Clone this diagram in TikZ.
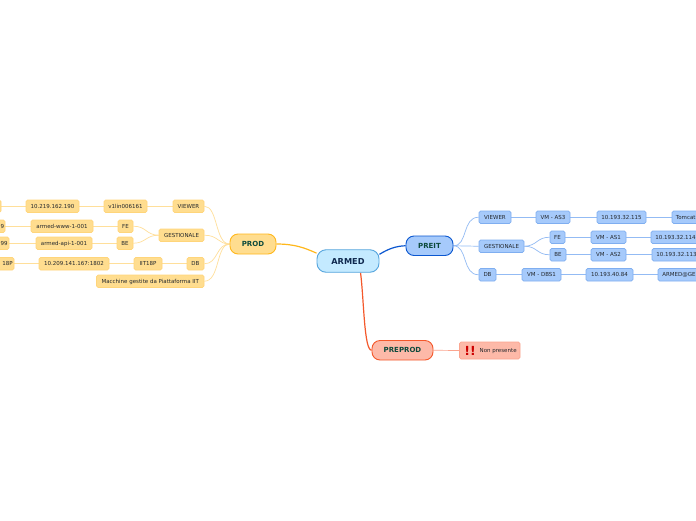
\documentclass[tikz,border=0pt]{standalone}
\usepackage{fontspec}
\setmainfont{DejaVu Sans}
\definecolor{yfill}{HTML}{FFDD8F}
\definecolor{yline}{HTML}{FFD57A}
\definecolor{ywire}{HTML}{FFDF9A}
\definecolor{ymain}{HTML}{FFB81C}
\definecolor{bfill}{HTML}{A6CAFB}
\definecolor{bline}{HTML}{7FAEF0}
\definecolor{bwire}{HTML}{93BBF4}
\definecolor{bmain}{HTML}{0B57D0}
\definecolor{rfill}{HTML}{FDB9A8}
\definecolor{rline}{HTML}{FBA58F}
\definecolor{rmain}{HTML}{F4582B}
\definecolor{rootfill}{HTML}{C4EAFF}
\definecolor{rootline}{HTML}{55A5DD}
\definecolor{labelc}{HTML}{23272C}
\definecolor{headc}{HTML}{0C4A3C}
\definecolor{rootc}{HTML}{10294F}
\pgfdeclarelayer{bg}
\pgfsetlayers{bg,main}
\tikzset{
  x=1pt,y=-1pt,
  tiny label/.style={text=labelc,font=\fontsize{5.5}{6}\selectfont,text height=4.4pt,text depth=0.4pt,inner sep=0pt},
  box/.style={rectangle,rounded corners=1.6pt,line width=.7pt,tiny label},
  yb/.style={box,fill=yfill,draw=yline},
  bb/.style={box,fill=bfill,draw=bline},
  rb/.style={box,fill=rfill,draw=rline},
  headbox/.style={rectangle,inner sep=0pt,rounded corners=8pt,line width=.9pt,text=headc,text height=5pt,text depth=0pt,font=\fontsize{7}{8}\selectfont\bfseries},
  yl/.style={draw=ywire,line width=.7pt},
  bl/.style={draw=bwire,line width=.7pt},
  rl/.style={draw=rline,line width=.7pt},
}
% name, x1, y1, x2, y2, style, text
\newcommand{\nd}[7]{\node[#6,minimum width=#4pt-#2pt,minimum height=#5pt-#3pt] (#1) at ({(#2+#4)/2},{(#3+#5)/2}) {#7};}
\begin{document}
\begin{tikzpicture}
\useasboundingbox (0,0) rectangle (696,520);
\clip (0,0) rectangle (696,520);
% root and branches
\node[rectangle,inner sep=0pt,rounded corners=9pt,line width=.9pt,fill=rootfill,draw=rootline,text=rootc,text height=6pt,text depth=0pt,font=\fontsize{8.2}{9}\selectfont\bfseries,minimum width=62pt,minimum height=22.5pt] (armed) at (348,261) {ARMED};
\nd{prod}{230}{234}{276}{254}{headbox,fill=yfill,draw=ymain}{PROD}
\nd{preit}{406}{236}{453}{255.5}{headbox,fill=bfill,draw=bmain}{PREIT}
\nd{preprod}{372}{340.5}{433}{360}{headbox,fill=rfill,draw=rmain}{PREPROD}
% PROD side
\nd{lv}{173}{200}{204}{212.5}{yb}{VIEWER}
\nd{lv1}{104}{200}{147}{212.5}{yb}{v1lin006161}
\nd{lv2}{26}{200}{79}{212.5}{yb}{10.219.162.190}
\nd{lv3}{-30}{200}{1}{212.5}{yb}{}
\nd{lg}{159}{229}{204}{241.5}{yb}{GESTIONALE}
\nd{lf}{118}{220}{133}{232.5}{yb}{FE}
\nd{lf1}{31}{220}{93}{232.5}{yb}{armed-www-1-001}
\nd{lf2}{-50}{220}{5}{232.5}{yb}{}
\node[anchor=east,tiny label] (lf2t) at ([xshift=-1pt]lf2.east) {9};
\nd{lb}{117}{237}{133}{249.5}{yb}{BE}
\nd{lb1}{36}{237}{92}{249.5}{yb}{armed-api-1-001}
\nd{lb2}{-50}{237}{9}{249.5}{yb}{}
\node[anchor=east,tiny label] (lb2t) at ([xshift=-1.5pt]lb2.east) {99};
\nd{ld}{187}{257.5}{204}{270}{yb}{DB}
\nd{ld1}{134}{257.5}{162}{270}{yb}{IIT18P}
\nd{ld2}{39}{257.5}{109}{270}{yb}{10.209.141.167:1802}
\nd{ld3}{-50}{257.5}{14}{270}{yb}{}
\node[anchor=east,tiny label] (ld3t) at ([xshift=-1.5pt]ld3.east) {18P};
\nd{lm}{96.5}{275}{204}{287.5}{yb}{Macchine gestite da Piattaforma IIT}
% PREIT side
\nd{rv}{479}{211}{511}{223.5}{bb}{VIEWER}
\nd{rv1}{536}{211}{570}{223.5}{bb}{VM - AS3}
\nd{rv2}{597}{211}{646}{223.5}{bb}{10.193.32.115}
\nd{rv3}{672}{211}{730}{223.5}{bb}{}
\node[anchor=west,tiny label] (rv3t) at ([xshift=4pt]rv3.west) {Tomcat};
\nd{rg}{479}{240}{524}{252.5}{bb}{GESTIONALE}
\nd{rf}{550}{231}{565}{243.5}{bb}{FE}
\nd{rf1}{591}{231}{626}{243.5}{bb}{VM - AS1}
\nd{rf2}{651}{231}{720}{243.5}{bb}{}
\node[anchor=west,tiny label] (rf2t) at ([xshift=4.5pt]rf2.west) {10.193.32.114};
\nd{rb1}{550}{248.5}{566}{261}{bb}{BE}
\nd{rb2}{591}{248.5}{626}{261}{bb}{VM - AS2}
\nd{rb3}{652}{248.5}{720}{261}{bb}{}
\node[anchor=west,tiny label] (rb3t) at ([xshift=4.5pt]rb3.west) {10.193.32.113};
\nd{rd}{479}{268.5}{496}{281}{bb}{DB}
\nd{rd1}{522}{268.5}{561}{281}{bb}{VM - DBS1}
\nd{rd2}{586}{268.5}{633}{281}{bb}{10.193.40.84}
\nd{rd3}{658}{268.5}{730}{281}{bb}{}
\node[anchor=west,tiny label] (rd3t) at ([xshift=4.5pt]rd3.west) {ARMED@GE};
% PREPROD side
\nd{np}{459.5}{342}{520}{359}{rb}{}
\node[anchor=east,tiny label] (npt) at ([xshift=-3.5pt]np.east) {Non presente};
\node[text=red!80!black,font=\fontsize{12.5}{12}\selectfont\bfseries,inner sep=0pt] (bang) at (470,350.5) {!!};
\begin{pgfonlayer}{bg}
\fill[white] (0,0) rectangle (696,520);
\draw[ymain,line width=1.2pt] (prod.east) .. controls (295,244) and (305,248) .. (armed.166);
\draw[bmain,line width=1.2pt] (armed.12) .. controls (388,249) and (396,246) .. (preit.west);
\draw[rmain,line width=1.2pt] (armed.-43) .. controls (364,300) and (364,350) .. (preprod.west);
% yellow
\draw[yl] (prod.west) .. controls (215,244) and (218,206) .. (lv.east);
\draw[yl] (prod.west) .. controls (218,244) and (218,235) .. (lg.east);
\draw[yl] (prod.west) .. controls (216,244) and (218,264) .. (ld.east);
\draw[yl] (prod.west) .. controls (216,244) and (220,281) .. (lm.east);
\draw[yl] (lv.west) -- (lv1.east);
\draw[yl] (lv1.west) -- (lv2.east);
\draw[yl] (lv2.west) -- (lv3.east);
\draw[yl] (lg.west) .. controls (146,235) and (146,226) .. (lf.east);
\draw[yl] (lg.west) .. controls (146,235) and (146,243) .. (lb.east);
\draw[yl] (lf.west) -- (lf1.east);
\draw[yl] (lf1.west) -- (lf2.east);
\draw[yl] (lb.west) -- (lb1.east);
\draw[yl] (lb1.west) -- (lb2.east);
\draw[yl] (ld.west) -- (ld1.east);
\draw[yl] (ld1.west) -- (ld2.east);
\draw[yl] (ld2.west) -- (ld3.east);
% blue
\draw[bl] (preit.east) .. controls (468,246) and (462,217) .. (rv.west);
\draw[bl] (preit.east) -- (rg.west);
\draw[bl] (preit.east) .. controls (468,246) and (462,275) .. (rd.west);
\draw[bl] (rv.east) -- (rv1.west);
\draw[bl] (rv1.east) -- (rv2.west);
\draw[bl] (rv2.east) -- (rv3.west);
\draw[bl] (rg.east) .. controls (537,246) and (537,237) .. (rf.west);
\draw[bl] (rg.east) .. controls (537,246) and (537,255) .. (rb1.west);
\draw[bl] (rf.east) -- (rf1.west);
\draw[bl] (rf1.east) -- (rf2.west);
\draw[bl] (rb1.east) -- (rb2.west);
\draw[bl] (rb2.east) -- (rb3.west);
\draw[bl] (rd.east) -- (rd1.west);
\draw[bl] (rd1.east) -- (rd2.west);
\draw[bl] (rd2.east) -- (rd3.west);
% red
\draw[rl] (preprod.east) -- (np.west);
\end{pgfonlayer}
\end{tikzpicture}
\end{document}
